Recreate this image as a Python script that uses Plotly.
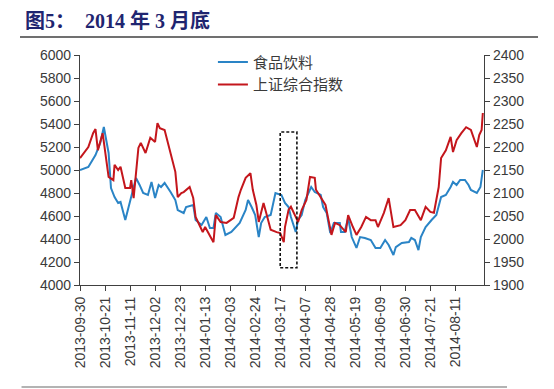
import pandas as pd
import plotly.graph_objects as go

# ---- data ----
food_dates = [
    "2013-09-30", "2013-10-07", "2013-10-13", "2013-10-17", "2013-10-20", "2013-10-24", "2013-10-26", "2013-10-29", "2013-11-01",
    "2013-11-03", "2013-11-07", "2013-11-09", "2013-11-12", "2013-11-16", "2013-11-19", "2013-11-22", "2013-11-26", "2013-11-29",
    "2013-12-02", "2013-12-05", "2013-12-07", "2013-12-10", "2013-12-15", "2013-12-19", "2013-12-21", "2013-12-26", "2013-12-28",
    "2014-01-03", "2014-01-05", "2014-01-10", "2014-01-14", "2014-01-17", "2014-01-20", "2014-01-22", "2014-01-26", "2014-01-30",
    "2014-02-04", "2014-02-11", "2014-02-16", "2014-02-18", "2014-02-21", "2014-02-24", "2014-02-27",
    "2014-03-01", "2014-03-04", "2014-03-09", "2014-03-13", "2014-03-18", "2014-03-21", "2014-03-24", "2014-03-26", "2014-03-30",
    "2014-04-01", "2014-04-04", "2014-04-07", "2014-04-12", "2014-04-15", "2014-04-20", "2014-04-22", "2014-04-25", "2014-04-28",
    "2014-05-01", "2014-05-06", "2014-05-07", "2014-05-10", "2014-05-13", "2014-05-16", "2014-05-20", "2014-05-23", "2014-05-27",
    "2014-06-01", "2014-06-05", "2014-06-09", "2014-06-13", "2014-06-16", "2014-06-20", "2014-06-22", "2014-06-27",
    "2014-07-03", "2014-07-05", "2014-07-08", "2014-07-11", "2014-07-13", "2014-07-17", "2014-07-22", "2014-07-26", "2014-07-30",
    "2014-08-03", "2014-08-07", "2014-08-09", "2014-08-12", "2014-08-15", "2014-08-19", "2014-08-22", "2014-08-24", "2014-08-29",
    "2014-09-01", "2014-09-03",
]
food_values = [
    5000, 5026, 5130, 5235, 5374, 5148, 4843, 4765, 4713,
    4722, 4565, 4652, 4783, 4930, 4870, 4800, 4783, 4896,
    4757, 4870, 4852, 4887, 4809, 4739, 4652, 4626, 4678,
    4696, 4565, 4522, 4591, 4496, 4496, 4626, 4591, 4435,
    4461, 4539, 4652, 4739, 4678, 4609, 4417,
    4539, 4591, 4609, 4800, 4783, 4713, 4678, 4591, 4461,
    4565, 4609, 4739, 4852, 4809, 4783, 4678, 4626, 4452,
    4539, 4539, 4461, 4461, 4583, 4417, 4322, 4417, 4409,
    4391, 4322, 4322, 4391, 4348, 4261, 4330, 4365,
    4374, 4409, 4391, 4304, 4417, 4504, 4565, 4609, 4765,
    4783, 4852, 4896, 4870, 4913, 4913, 4870, 4826, 4800, 4852,
    5000,
]

sse_dates = [
    "2013-09-30", "2013-10-07", "2013-10-11", "2013-10-13", "2013-10-15", "2013-10-19", "2013-10-24", "2013-10-28", "2013-10-29", "2013-11-01",
    "2013-11-03", "2013-11-07", "2013-11-11", "2013-11-12", "2013-11-14", "2013-11-18", "2013-11-20", "2013-11-24", "2013-11-28", "2013-12-02",
    "2013-12-04", "2013-12-06", "2013-12-10", "2013-12-15", "2013-12-19", "2013-12-21", "2013-12-24", "2013-12-26", "2013-12-28", "2013-12-31",
    "2014-01-03", "2014-01-05", "2014-01-09", "2014-01-11", "2014-01-13", "2014-01-16", "2014-01-18", "2014-01-20", "2014-01-22", "2014-01-26",
    "2014-01-31", "2014-02-06", "2014-02-10", "2014-02-12", "2014-02-16", "2014-02-20", "2014-02-22", "2014-02-25", "2014-02-27", "2014-03-03",
    "2014-03-05", "2014-03-09", "2014-03-14", "2014-03-17", "2014-03-20", "2014-03-21", "2014-03-24", "2014-03-26", "2014-03-30", "2014-04-01",
    "2014-04-04", "2014-04-08", "2014-04-11", "2014-04-15", "2014-04-16", "2014-04-20", "2014-04-24", "2014-04-26", "2014-04-29", "2014-05-02",
    "2014-05-06", "2014-05-11", "2014-05-13", "2014-05-17", "2014-05-20", "2014-05-24", "2014-05-28", "2014-06-01", "2014-06-05", "2014-06-07",
    "2014-06-12", "2014-06-16", "2014-06-20", "2014-06-26", "2014-06-30", "2014-07-04", "2014-07-08", "2014-07-13", "2014-07-17", "2014-07-21",
    "2014-07-24", "2014-07-28", "2014-07-30", "2014-08-03", "2014-08-07", "2014-08-09", "2014-08-12", "2014-08-16", "2014-08-20", "2014-08-24",
    "2014-08-29", "2014-08-31", "2014-09-02", "2014-09-03",
]
sse_values = [
    2176, 2200, 2230, 2239, 2193, 2230, 2135, 2128, 2161, 2150,
    2157, 2111, 2111, 2128, 2089, 2198, 2209, 2187, 2220, 2211,
    2252, 2241, 2237, 2187, 2146, 2091, 2100, 2102, 2107, 2113,
    2089, 2048, 2026, 2015, 2026, 2013, 2002, 1993, 2052, 2037,
    2035, 2046, 2091, 2107, 2133, 2143, 2107, 2074, 2037, 2078,
    2059, 2020, 2015, 2013, 1993, 2026, 2063, 2070, 2048, 2037,
    2063, 2085, 2135, 2133, 2107, 2091, 2074, 2048, 2009, 2035,
    2030, 2015, 2052, 2026, 2009, 2026, 2048, 2041, 2041, 2026,
    2057, 2089, 2026, 2030, 2041, 2063, 2063, 2041, 2070, 2059,
    2057, 2113, 2176, 2193, 2222, 2189, 2215, 2230, 2243, 2237,
    2200, 2226, 2237, 2274,
]

tick_dates = [
    "2013-09-30", "2013-10-21", "2013-11-11", "2013-12-02", "2013-12-23", "2014-01-13",
    "2014-02-03", "2014-02-24", "2014-03-17", "2014-04-07", "2014-04-28", "2014-05-19",
    "2014-06-09", "2014-06-30", "2014-07-21", "2014-08-11",
]

series_names = ["食品饮料", "上证综合指数"]
title_text = "图5：  2014 年 3 月底"

# highlighted window (dashed box), in data units
box_start, box_end = "2014-03-17", "2014-03-31"
box_low, box_high = 4150, 5330

x_start, x_end = "2013-09-30", "2014-09-04"

BLUE = "#2a84c6"
RED = "#c4161c"
AX = "#404040"
TXT = "#3a3a3a"
RULE = "#707070"

fig = go.Figure()
fig.add_trace(go.Scatter(
    x=pd.to_datetime(food_dates), y=food_values, name=series_names[0],
    mode="lines", line=dict(color=BLUE, width=2), yaxis="y",
))
fig.add_trace(go.Scatter(
    x=pd.to_datetime(sse_dates), y=sse_values, name=series_names[1],
    mode="lines", line=dict(color=RED, width=2), yaxis="y2",
))

fig.add_shape(
    type="rect", xref="x", yref="y",
    x0=box_start, x1=box_end, y0=box_low, y1=box_high,
    line=dict(color="#111111", width=1.6, dash="3px,2px"),
    layer="above",
)

# horizontal rule under the title (drawn two ways at the same place)
fig.add_shape(
    type="line", xref="paper", yref="paper",
    x0=-0.1485, x1=1.1337, y0=1.078, y1=1.078,
    line=dict(color=RULE, width=2), layer="above",
)
fig.add_annotation(
    text=" ", xref="paper", yref="paper", x=-0.1485, y=1.078,
    xanchor="left", yanchor="middle", showarrow=False,
    width=518, height=2, borderpad=0, borderwidth=0, bgcolor=RULE,
    font=dict(size=1),
)
# bottom rule
fig.add_annotation(
    text="", xref="paper", yref="paper", x=1.057, y=-0.4435,
    axref="pixel", ayref="pixel", ax=-487, ay=0,
    showarrow=True, arrowhead=0, arrowwidth=1.5, arrowcolor="#9a9a9a", standoff=0, startstandoff=0,
)

# title (plot area is 404 x 230 px)
fig.add_annotation(
    text="<b>" + title_text + "</b>", xref="paper", yref="paper",
    x=0.0916, y=1.152, xanchor="center", yanchor="middle", showarrow=False,
    font=dict(family="Liberation Serif, Noto Sans CJK SC", size=20, color="#1f2570"),
)

tick_font = dict(family="Liberation Sans, Arial", size=14, color=TXT)

fig.update_layout(
    width=546, height=381,
    margin=dict(l=72, r=70, t=47, b=104),
    paper_bgcolor="white", plot_bgcolor="white",
    showlegend=True,
    legend=dict(
        x=0.329, y=1.04, xanchor="left", yanchor="top",
        bgcolor="rgba(0,0,0,0)", font=dict(family="Noto Sans CJK SC", size=15, color=TXT),
        tracegroupgap=0, itemwidth=30,
    ),
    xaxis=dict(
        type="date", range=[x_start, x_end],
        tickmode="array", tickvals=tick_dates, ticktext=tick_dates,
        tickangle=-90, ticks="outside", ticklen=5, tickcolor=AX,
        showline=True, linecolor=AX, linewidth=1.2,
        showgrid=False, zeroline=False, tickfont=tick_font,
    ),
    yaxis=dict(
        range=[4000, 6000], dtick=200, ticks="outside", ticklen=5, tickcolor=AX,
        showline=True, linecolor=AX, linewidth=1.2,
        showgrid=False, zeroline=False, tickfont=tick_font,
    ),
    yaxis2=dict(
        range=[1900, 2400], dtick=50, overlaying="y", side="right",
        ticks="outside", ticklen=5, tickcolor=AX,
        showline=True, linecolor=AX, linewidth=1.2,
        showgrid=False, zeroline=False, tickfont=tick_font,
    ),
)

fig.write_html("out.html")
